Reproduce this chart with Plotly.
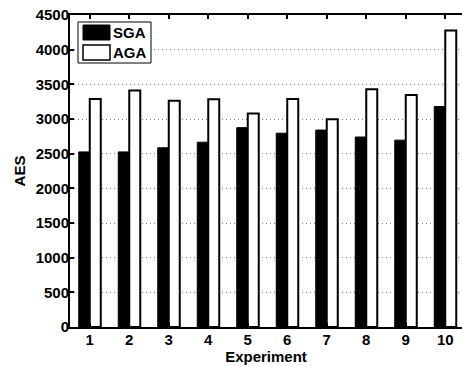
import plotly.graph_objects as go

experiments = [1, 2, 3, 4, 5, 6, 7, 8, 9, 10]
sga = [2525, 2525, 2585, 2665, 2875, 2795, 2840, 2740, 2695, 3180]
aga = [3290, 3410, 3265, 3285, 3080, 3290, 2995, 3430, 3345, 4275]
series_names = ["SGA", "AGA"]
y_ticks = [0, 500, 1000, 1500, 2000, 2500, 3000, 3500, 4000, 4500]

# the reference is cropped on the right: its right spine lies just past the edge
W, H = 462, 367
PL, PR, PT, PB = 70, 462, 15, 327   # plot area in pixels
L, R, T, B = PL, W - PR, PT, H - PB
PW, PH = PR - PL, PB - PT
CAT_PX = 39.5                        # pixels per category

FONT = "Liberation Sans, Arial, sans-serif"

fig = go.Figure()
fig.add_trace(go.Bar(x=experiments, y=sga, name=series_names[0],
                     marker=dict(color="black", line=dict(color="black", width=1))))
fig.add_trace(go.Bar(x=experiments, y=aga, name=series_names[1],
                     marker=dict(color="white", line=dict(color="black", width=2))))

def px_x(p):
    return (p - PL) / PW

def px_y(p):
    return (PB - p) / PH

shapes = [
    dict(type="rect", xref="paper", yref="paper",
         x0=px_x(78), x1=px_x(151), y0=px_y(63), y1=px_y(22),
         fillcolor="white", line=dict(color="black", width=1)),
    dict(type="rect", xref="paper", yref="paper",
         x0=px_x(83), x1=px_x(110), y0=px_y(40), y1=px_y(25),
         fillcolor="black", line=dict(color="black", width=1)),
    dict(type="rect", xref="paper", yref="paper",
         x0=px_x(83), x1=px_x(110), y0=px_y(60), y1=px_y(45),
         fillcolor="white", line=dict(color="black", width=1.5)),
]
annotations = [
    dict(xref="paper", yref="paper", x=px_x(111), y=px_y(32.5), xanchor="left",
         yanchor="middle", text=series_names[0], showarrow=False,
         font=dict(family=FONT, size=15, color="black", weight="bold")),
    dict(xref="paper", yref="paper", x=px_x(111), y=px_y(52.5), xanchor="left",
         yanchor="middle", text=series_names[1], showarrow=False,
         font=dict(family=FONT, size=15, color="black", weight="bold")),
]

fig.update_layout(
    width=W, height=H,
    margin=dict(l=L, r=R, t=T, b=B, pad=0, autoexpand=False),
    paper_bgcolor="white", plot_bgcolor="white",
    barmode="group", bargap=0.443, bargroupgap=0,
    showlegend=False,
    font=dict(family=FONT, size=15, color="black", weight="bold"),
    shapes=shapes, annotations=annotations,
)
fig.update_xaxes(
    range=[0.5, 0.5 + PW / CAT_PX],
    tickvals=experiments, ticktext=[str(e) for e in experiments],
    ticks="inside", ticklen=4, tickwidth=1.5, tickcolor="black",
    showline=True, linecolor="black", linewidth=2, mirror="ticks",
    showgrid=False, zeroline=False, automargin=False,
    ticklabelstandoff=-2, ticklabeloverflow="allow",
    tickfont=dict(family=FONT, size=15, color="black", weight="bold"),
    title=dict(text="Experiment", standoff=0,
               font=dict(family=FONT, size=15, color="black", weight="bold")),
)
fig.update_yaxes(
    range=[0, 4500], tickvals=y_ticks,
    ticks="inside", ticklen=4, tickwidth=1.5, tickcolor="black",
    showline=True, linecolor="black", linewidth=2, mirror=False,
    showgrid=True, gridcolor="#808080", griddash="1px,3px", gridwidth=1,
    zeroline=False, automargin=False,
    ticklabelstandoff=-4, ticklabeloverflow="allow",
    tickfont=dict(family=FONT, size=15, color="black", weight="bold"),
    title=dict(text="AES", standoff=6,
               font=dict(family=FONT, size=15, color="black", weight="bold")),
)

fig.write_html("out.html", config={"displayModeBar": False},
               post_script="document.body.style.margin='0px';")
